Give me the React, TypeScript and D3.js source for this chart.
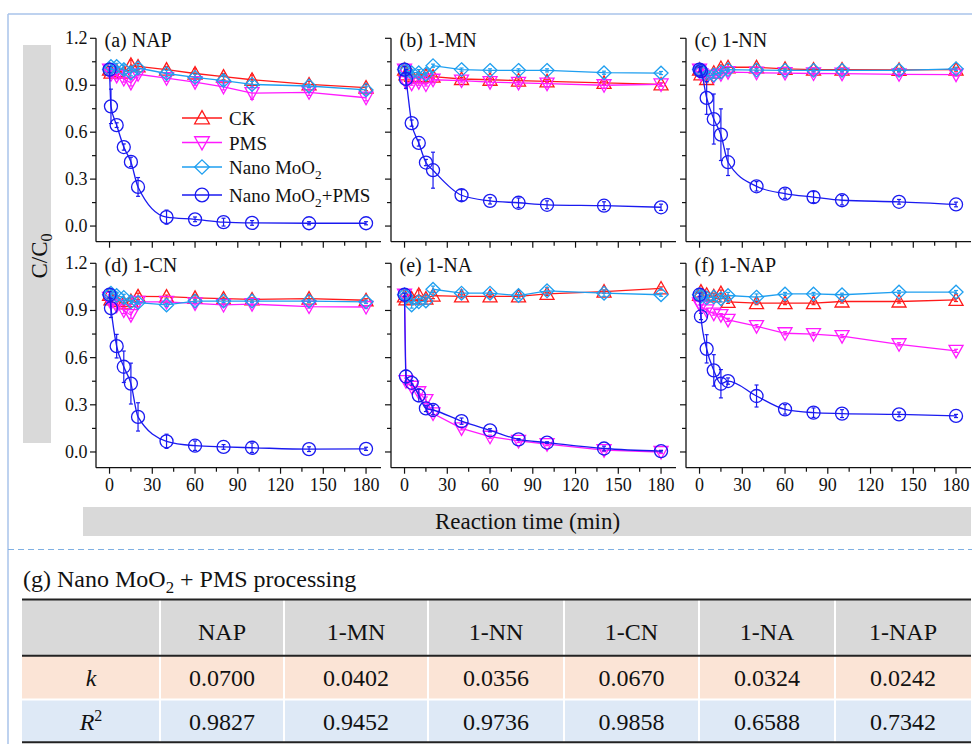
import React from "react";
import * as d3 from "d3";

// ---------------- DATA ----------------
const TIMES = [0, 1, 5, 10, 15, 20, 40, 60, 80, 100, 140, 180];
const SERIES_NAMES = ["CK", "PMS", "Nano MoO2", "Nano MoO2+PMS"];
const PANEL_TITLES = ["(a) NAP", "(b) 1-MN", "(c) 1-NN", "(d) 1-CN", "(e) 1-NA", "(f) 1-NAP"];

// (a) NAP
const ckNAP = [1.0, 0.98, 0.99, 0.98, 1.03, 1.02, 1.0, 0.975, 0.955, 0.935, 0.905, 0.885];
const pmsNAP = [1.0, 0.97, 0.96, 0.94, 0.915, 0.97, 0.945, 0.92, 0.89, 0.85, 0.855, 0.82];
const moNAP = [1.0, 1.02, 1.02, 1.0, 0.98, 1.01, 0.975, 0.95, 0.93, 0.905, 0.895, 0.87];
const moPmsNAP = [1.0, 0.765, 0.645, 0.505, 0.41, 0.25, 0.057, 0.043, 0.025, 0.02, 0.018, 0.018];
const errCkNAP = [0.01, 0.02, 0.02, 0.02, 0.03, 0.02, 0.02, 0.03, 0.02, 0.03, 0.02, 0.02];
const errPmsNAP = [0.01, 0.02, 0.02, 0.02, 0.02, 0.01, 0.02, 0.02, 0.02, 0.04, 0.02, 0.02];
const errMoNAP = [0.02, 0.02, 0.02, 0.03, 0.02, 0.02, 0.02, 0.02, 0.03, 0.02, 0.01, 0.02];
const errMoPmsNAP = [0.02, 0.11, 0.015, 0.02, 0.03, 0.06, 0.045, 0.015, 0.025, 0.015, 0.01, 0.01];

// (b) 1-MN
const ckMN = [1.0, 0.97, 0.96, 0.95, 0.96, 0.955, 0.94, 0.935, 0.93, 0.925, 0.915, 0.905];
const pmsMN = [1.0, 0.92, 0.91, 0.92, 0.905, 0.935, 0.93, 0.92, 0.915, 0.91, 0.9, 0.905];
const moMN = [1.0, 0.99, 0.98, 0.98, 0.97, 1.025, 1.0, 0.995, 0.995, 0.995, 0.98, 0.978];
const moPmsMN = [1.0, 0.94, 0.658, 0.531, 0.406, 0.357, 0.197, 0.161, 0.149, 0.136, 0.13, 0.12];
const errCkMN = [0.02, 0.02, 0.01, 0.02, 0.01, 0.01, 0.01, 0.01, 0.01, 0.01, 0.01, 0.01];
const errPmsMN = [0.02, 0.02, 0.01, 0.02, 0.01, 0.02, 0.01, 0.02, 0.01, 0.02, 0.02, 0.01];
const errMoMN = [0.02, 0.02, 0.02, 0.02, 0.01, 0.01, 0.01, 0.01, 0.01, 0.01, 0.01, 0.01];
const errMoPmsMN = [0.02, 0.06, 0.02, 0.02, 0.02, 0.115, 0.035, 0.02, 0.03, 0.025, 0.025, 0.02];

// (c) 1-NN
const ckNN = [1.0, 0.97, 0.94, 0.98, 1.01, 1.015, 1.015, 1.005, 1.0, 1.0, 0.998, 1.0];
const pmsNN = [1.0, 0.97, 0.96, 0.96, 0.97, 0.984, 0.98, 0.978, 0.975, 0.974, 0.97, 0.968];
const moNN = [1.0, 0.99, 0.96, 0.965, 0.985, 1.0, 0.997, 0.995, 0.995, 0.995, 0.995, 1.005];
const moPmsNN = [1.0, 0.99, 0.819, 0.684, 0.584, 0.408, 0.254, 0.207, 0.185, 0.165, 0.155, 0.138];
const errCkNN = [0.02, 0.02, 0.02, 0.02, 0.02, 0.02, 0.02, 0.01, 0.01, 0.01, 0.01, 0.01];
const errPmsNN = [0.01, 0.01, 0.01, 0.01, 0.01, 0.01, 0.01, 0.01, 0.01, 0.01, 0.01, 0.01];
const errMoNN = [0.02, 0.02, 0.02, 0.02, 0.01, 0.01, 0.01, 0.01, 0.01, 0.01, 0.01, 0.01];
const errMoPmsNN = [0.015, 0.03, 0.105, 0.16, 0.165, 0.085, 0.03, 0.03, 0.035, 0.03, 0.015, 0.015];

// (d) 1-CN
const ckCN = [1.0, 0.97, 0.96, 0.945, 0.96, 0.99, 0.988, 0.98, 0.975, 0.97, 0.975, 0.965];
const pmsCN = [0.98, 0.95, 0.93, 0.9, 0.87, 0.955, 0.955, 0.945, 0.935, 0.94, 0.925, 0.922];
const moCN = [1.0, 1.01, 0.995, 0.983, 0.955, 0.95, 0.935, 0.96, 0.96, 0.96, 0.96, 0.955];
const moPmsCN = [1.0, 0.915, 0.673, 0.542, 0.435, 0.223, 0.068, 0.04, 0.032, 0.027, 0.018, 0.02];
const errCkCN = [0.02, 0.02, 0.02, 0.02, 0.02, 0.02, 0.01, 0.02, 0.01, 0.01, 0.02, 0.01];
const errPmsCN = [0.02, 0.02, 0.02, 0.02, 0.02, 0.01, 0.01, 0.01, 0.01, 0.01, 0.01, 0.01];
const errMoCN = [0.02, 0.02, 0.02, 0.02, 0.01, 0.01, 0.01, 0.01, 0.01, 0.01, 0.01, 0.01];
const errMoPmsCN = [0.02, 0.06, 0.075, 0.1, 0.13, 0.09, 0.045, 0.03, 0.015, 0.03, 0.015, 0.01];

// (e) 1-NA
const ckNA = [0.99, 0.97, 0.975, 1.0, 0.975, 0.995, 0.99, 0.99, 0.99, 1.005, 1.02, 1.04];
const pmsNA = [1.0, 0.45, 0.415, 0.38, 0.33, 0.245, 0.15, 0.097, 0.07, 0.05, 0.012, 0.0];
const moNA = [1.0, 0.99, 0.935, 0.955, 0.96, 1.035, 1.01, 1.01, 0.995, 1.025, 1.01, 1.0];
const moPmsNA = [1.0, 0.48, 0.44, 0.36, 0.277, 0.267, 0.196, 0.138, 0.08, 0.06, 0.022, 0.005];
const errCkNA = [0.02, 0.02, 0.02, 0.03, 0.02, 0.02, 0.01, 0.01, 0.01, 0.01, 0.01, 0.01];
const errPmsNA = [0.01, 0.02, 0.02, 0.02, 0.02, 0.02, 0.01, 0.01, 0.01, 0.01, 0.01, 0.01];
const errMoNA = [0.01, 0.02, 0.02, 0.02, 0.02, 0.02, 0.02, 0.01, 0.02, 0.02, 0.02, 0.01];
const errMoPmsNA = [0.01, 0.04, 0.015, 0.04, 0.02, 0.03, 0.02, 0.01, 0.005, 0.005, 0.015, 0.005];

// (f) 1-NAP
const ckNP = [1.0, 1.02, 1.0, 0.99, 1.01, 0.955, 0.947, 0.947, 0.947, 0.957, 0.957, 0.967];
const pmsNP = [0.945, 0.925, 0.9, 0.88, 0.87, 0.84, 0.8, 0.755, 0.75, 0.737, 0.685, 0.643];
const moNP = [1.0, 0.99, 0.98, 0.985, 0.975, 0.995, 0.985, 1.005, 1.005, 1.0, 1.017, 1.017];
const moPmsNP = [1.0, 0.862, 0.656, 0.519, 0.434, 0.451, 0.356, 0.271, 0.25, 0.244, 0.239, 0.229];
const errCkNP = [0.02, 0.02, 0.02, 0.02, 0.02, 0.01, 0.01, 0.01, 0.01, 0.01, 0.01, 0.01];
const errPmsNP = [0.01, 0.01, 0.01, 0.01, 0.01, 0.01, 0.01, 0.01, 0.01, 0.01, 0.01, 0.01];
const errMoNP = [0.02, 0.02, 0.02, 0.02, 0.02, 0.02, 0.02, 0.01, 0.01, 0.01, 0.01, 0.01];
const errMoPmsNP = [0.01, 0.02, 0.09, 0.1, 0.09, 0.02, 0.07, 0.03, 0.03, 0.025, 0.015, 0.01];

const Y_TICKS = [0, 0.3, 0.6, 0.9, 1.2];
const Y_MINOR = [0.15, 0.45, 0.75, 1.05];
const X_TICKS = [0, 30, 60, 90, 120, 150, 180];
const X_MINOR = [15, 45, 75, 105, 135, 165];

// table
const TABLE_TITLE = "(g) Nano MoO2 + PMS processing";
const TABLE_HEADERS = ["NAP", "1-MN", "1-NN", "1-CN", "1-NA", "1-NAP"];
const K_VALUES = ["0.0700", "0.0402", "0.0356", "0.0670", "0.0324", "0.0242"];
const R2_VALUES = ["0.9827", "0.9452", "0.9736", "0.9858", "0.6588", "0.7342"];

// ---------------- STYLE / LAYOUT ----------------
const COLORS = ["#ff1a1a", "#ff1aff", "#1e9ff0", "#1a1af0"];
const MARKERS = ["up", "down", "diamond", "circle"];
const FONT = "'Liberation Serif', 'Times New Roman', serif";
const PANEL_W = 285;
const PANEL_LEFTS = [96, 391, 686];
const ROWS = [
  { top: 38.3, bottom: 241.7 },
  { top: 263.3, bottom: 467.7 },
];
const COL_EDGES = [22, 160, 284, 428, 564, 699, 835, 971];

const PANELS = [
  { series: [ckNAP, pmsNAP, moNAP, moPmsNAP], errs: [errCkNAP, errPmsNAP, errMoNAP, errMoPmsNAP] },
  { series: [ckMN, pmsMN, moMN, moPmsMN], errs: [errCkMN, errPmsMN, errMoMN, errMoPmsMN] },
  { series: [ckNN, pmsNN, moNN, moPmsNN], errs: [errCkNN, errPmsNN, errMoNN, errMoPmsNN] },
  { series: [ckCN, pmsCN, moCN, moPmsCN], errs: [errCkCN, errPmsCN, errMoCN, errMoPmsCN] },
  { series: [ckNA, pmsNA, moNA, moPmsNA], errs: [errCkNA, errPmsNA, errMoNA, errMoPmsNA] },
  { series: [ckNP, pmsNP, moNP, moPmsNP], errs: [errCkNP, errPmsNP, errMoNP, errMoPmsNP] },
];

function Marker({ kind, x, y, color, s = 1 }: { kind: string; x: number; y: number; color: string; s?: number }) {
  const common = { fill: "none", stroke: color, strokeWidth: 1.3 };
  if (kind === "circle") return <circle cx={x} cy={y} r={6.5 * s} {...common} />;
  let d = "";
  if (kind === "up") d = `M${x},${y - 7 * s}L${x + 7 * s},${y + 5.5 * s}L${x - 7 * s},${y + 5.5 * s}Z`;
  else if (kind === "down") d = `M${x},${y + 7 * s}L${x + 7 * s},${y - 5.5 * s}L${x - 7 * s},${y - 5.5 * s}Z`;
  else d = `M${x},${y - 6.8 * s}L${x + 7 * s},${y}L${x},${y + 6.8 * s}L${x - 7 * s},${y}Z`;
  return <path d={d} {...common} />;
}

function Label({ text, sub = 5 }: { text: string; sub?: number }) {
  // render "MoO2" with subscript 2
  const parts = text.split("MoO2");
  const out: any[] = [];
  parts.forEach((p, i) => {
    if (i > 0) {
      out.push(<tspan key={"m" + i}>MoO</tspan>);
      out.push(
        <tspan key={"s" + i} dy={sub} fontSize="0.7em">
          2
        </tspan>
      );
      if (p !== "")
        out.push(
          <tspan key={"r" + i} dy={-sub}>
            {p}
          </tspan>
        );
    } else if (p !== "") out.push(<tspan key={"p" + i}>{p}</tspan>);
  });
  return <>{out}</>;
}

function Panel({ idx }: { idx: number }) {
  const col = idx % 3;
  const row = Math.floor(idx / 3);
  const left = PANEL_LEFTS[col];
  const { top, bottom } = ROWS[row];
  const x = d3.scaleLinear().domain([-9.5, 190.5]).range([left, left + PANEL_W]);
  const y = d3.scaleLinear().domain([-0.1, 1.2]).range([bottom, top]);
  const panel = PANELS[idx];
  const fmt = d3.format(".1f");

  return (
    <g>
      {panel.series.map((vals, si) => {
        const pts = TIMES.map((t, i) => [x(t), y(vals[i])] as [number, number]);
        const line = d3
          .line()
          .curve(si === 3 ? d3.curveMonotoneX : d3.curveLinear)(pts) as string;
        const errs = panel.errs[si];
        return (
          <g key={si}>
            <path d={line} fill="none" stroke={COLORS[si]} strokeWidth={1.3} />
            {TIMES.map((t, i) => {
              const cx = x(t);
              const y1 = y(vals[i] - errs[i]);
              const y2 = y(vals[i] + errs[i]);
              return (
                <g key={i} stroke={COLORS[si]} strokeWidth={1.2}>
                  <line x1={cx} x2={cx} y1={y1} y2={y2} />
                  <line x1={cx - 2} x2={cx + 2} y1={y1} y2={y1} />
                  <line x1={cx - 2} x2={cx + 2} y1={y2} y2={y2} />
                </g>
              );
            })}
            {TIMES.map((t, i) => (
              <Marker key={"m" + i} kind={MARKERS[si]} x={x(t)} y={y(vals[i])} color={COLORS[si]} />
            ))}
          </g>
        );
      })}
      {/* axes */}
      <line x1={left} x2={left} y1={top} y2={bottom} stroke="#111" strokeWidth={1.3} />
      <line x1={left} x2={left + PANEL_W} y1={bottom} y2={bottom} stroke="#111" strokeWidth={1.3} />
      {Y_TICKS.map((v) => (
        <line key={"yt" + v} x1={left - 6} x2={left} y1={y(v)} y2={y(v)} stroke="#111" strokeWidth={1.2} />
      ))}
      {Y_MINOR.map((v) => (
        <line key={"ym" + v} x1={left - 4} x2={left} y1={y(v)} y2={y(v)} stroke="#111" strokeWidth={1.2} />
      ))}
      {X_TICKS.map((v) => (
        <line key={"xt" + v} x1={x(v)} x2={x(v)} y1={bottom} y2={bottom + 6} stroke="#111" strokeWidth={1.2} />
      ))}
      {X_MINOR.map((v) => (
        <line key={"xm" + v} x1={x(v)} x2={x(v)} y1={bottom} y2={bottom + 4} stroke="#111" strokeWidth={1.2} />
      ))}
      {col === 0 &&
        Y_TICKS.map((v) => (
          <text key={"yl" + v} x={left - 8.5} y={y(v) + 6} textAnchor="end" fontSize={18} fontFamily={FONT} fill="#111">
            {fmt(v)}
          </text>
        ))}
      {row === 1 &&
        X_TICKS.map((v) => (
          <text key={"xl" + v} x={x(v)} y={bottom + 23} textAnchor="middle" fontSize={18} fontFamily={FONT} fill="#111">
            {v}
          </text>
        ))}
      <text x={left + 8.5} y={top + 9} fontSize={20} fontFamily={FONT} fill="#111">
        {PANEL_TITLES[idx]}
      </text>
      {idx === 0 &&
        SERIES_NAMES.map((name, si) => {
          const ly = [118, 142.5, 167, 195][si];
          return (
            <g key={"lg" + si}>
              <line x1={182} x2={222} y1={ly} y2={ly} stroke={COLORS[si]} strokeWidth={1.3} />
              <Marker kind={MARKERS[si]} x={202} y={ly} color={COLORS[si]} s={1.05} />
              <text x={229} y={ly + 7} fontSize={19} fontFamily={FONT} fill="#111">
                <Label text={name} sub={5} />
              </text>
            </g>
          );
        })}
    </g>
  );
}

export default function App() {
  const colCenters = COL_EDGES.slice(0, -1).map((e, i) => (e + COL_EDGES[i + 1]) / 2);
  const tblLeft = COL_EDGES[0];
  const tblRight = COL_EDGES[COL_EDGES.length - 1];
  const rowsY = [599.5, 655.7, 699.5, 742.3];
  return (
    <svg
      width={972}
      height={744}
      style={{ position: "absolute", left: 0, top: 0, background: "#fff" }}
      fontFamily={FONT}
    >
      <rect x={0} y={0} width={972} height={744} fill="#fff" />
      {/* outer frame */}
      <line x1={8} x2={972} y1={14} y2={14} stroke="#a9c3ea" strokeWidth={1.5} />
      <line x1={8} x2={8} y1={14} y2={744} stroke="#a9c3ea" strokeWidth={1.5} />
      {/* axis label bars */}
      <rect x={23} y={45} width={28} height={398} fill="#d9d9d9" />
      <rect x={83} y={507} width={888} height={29} fill="#d9d9d9" />
      <text transform="translate(46.5,256) rotate(-90)" textAnchor="middle" fontSize={23} fill="#111">
        C/C<tspan dy={5} fontSize={16}>0</tspan>
      </text>
      <text x={527.5} y={529} textAnchor="middle" fontSize={23} fill="#111">
        Reaction time (min)
      </text>
      {d3.range(6).map((i) => (
        <Panel key={i} idx={i} />
      ))}
      {/* dashed divider */}
      <line x1={8} x2={972} y1={549.5} y2={549.5} stroke="#7fb0e3" strokeWidth={1.2} strokeDasharray="6,4" />
      {/* table */}
      <text x={23} y={587} fontSize={24} fill="#111">
        <Label text={TABLE_TITLE} sub={6} />
      </text>
      <rect x={tblLeft} y={rowsY[0]} width={tblRight - tblLeft} height={rowsY[1] - rowsY[0]} fill="#d9d9d9" />
      <rect x={tblLeft} y={rowsY[1]} width={tblRight - tblLeft} height={rowsY[2] - rowsY[1]} fill="#fbe4d6" />
      <rect x={tblLeft} y={rowsY[2]} width={tblRight - tblLeft} height={rowsY[3] - rowsY[2]} fill="#dee9f6" />
      {COL_EDGES.slice(1, -1).map((e) => (
        <line key={"ce" + e} x1={e} x2={e} y1={rowsY[0]} y2={rowsY[3]} stroke="#fff" strokeWidth={2} />
      ))}
      <line x1={tblLeft} x2={tblRight} y1={rowsY[2]} y2={rowsY[2]} stroke="#fff" strokeWidth={2} />
      <line x1={tblLeft} x2={tblRight} y1={rowsY[0]} y2={rowsY[0]} stroke="#222" strokeWidth={2} />
      <line x1={tblLeft} x2={tblRight} y1={rowsY[1]} y2={rowsY[1]} stroke="#222" strokeWidth={2} />
      <line x1={tblLeft} x2={tblRight} y1={rowsY[3]} y2={rowsY[3]} stroke="#222" strokeWidth={2} />
      {TABLE_HEADERS.map((h, i) => (
        <text key={"h" + i} x={colCenters[i + 1]} y={640} textAnchor="middle" fontSize={24} fill="#111">
          {h}
        </text>
      ))}
      <text x={colCenters[0]} y={686} textAnchor="middle" fontSize={24} fontStyle="italic" fill="#111">
        k
      </text>
      <text x={colCenters[0]} y={730} textAnchor="middle" fontSize={24} fill="#111">
        <tspan fontStyle="italic">R</tspan>
        <tspan dy={-9} fontSize={16}>
          2
        </tspan>
      </text>
      {K_VALUES.map((v, i) => (
        <text key={"k" + i} x={colCenters[i + 1]} y={686} textAnchor="middle" fontSize={24} fill="#111">
          {v}
        </text>
      ))}
      {R2_VALUES.map((v, i) => (
        <text key={"r" + i} x={colCenters[i + 1]} y={730} textAnchor="middle" fontSize={24} fill="#111">
          {v}
        </text>
      ))}
    </svg>
  );
}
